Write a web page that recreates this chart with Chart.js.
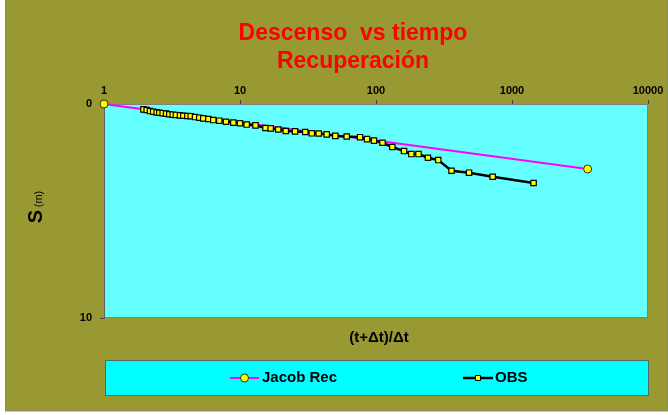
<!DOCTYPE html>
<html>
<head>
<meta charset="utf-8">
<script src="https://cdn.jsdelivr.net/npm/chart.js@4.4.1/dist/chart.umd.min.js"></script>
<style>
  html, body { margin: 0; padding: 0; background: #ffffff; }
  #wrap { width: 668px; height: 415px; }
</style>
</head>
<body>
<div id="wrap"><canvas id="c" width="668" height="415"></canvas></div>
<script>
// ---- data ----
const titleLines = ['Descenso  vs tiempo', 'Recuperación'];
const xAxisTitle = '(t+Δt)/Δt';
const yAxisTitle = 'S';
const yAxisUnit = '(m)';
const xTickValues = [1, 10, 100, 1000, 10000];
const yTickValues = [0, 10];

const jacobLabel = 'Jacob Rec';
const jacobRatio = [1, 3600];
const jacobS = [0, 3.04];

const obsLabel = 'OBS';
const obsRatio = [1.95, 2.06, 2.18, 2.30, 2.44, 2.55, 2.70, 2.86, 3.02, 3.20,
  3.38, 3.62, 3.83, 4.10, 4.34, 4.67, 5.02, 5.37, 5.85, 6.36,
  7.04, 7.89, 8.93, 10.0, 11.2, 13.0, 15.4, 16.8, 19.1, 21.7,
  25.4, 30.2, 33.7, 37.9, 43.4, 50.2, 60.9, 76.3, 85.9, 96.7,
  111.6, 131.8, 160.7, 181.8, 205.3, 241, 287, 359, 483, 721, 1441];
const obsS = [0.25, 0.28, 0.33, 0.36, 0.39, 0.41, 0.43, 0.45, 0.48, 0.50,
  0.51, 0.53, 0.55, 0.56, 0.57, 0.61, 0.64, 0.67, 0.70, 0.75,
  0.78, 0.83, 0.87, 0.90, 0.96, 1.00, 1.12, 1.14, 1.19, 1.26,
  1.28, 1.31, 1.37, 1.38, 1.42, 1.49, 1.52, 1.55, 1.64, 1.71,
  1.81, 2.01, 2.20, 2.34, 2.34, 2.51, 2.62, 3.12, 3.21, 3.40, 3.69];

// ---- chart ----
const FONT = 'Arial, "Liberation Sans", Helvetica, sans-serif';
Chart.defaults.font.family = FONT;
Chart.defaults.color = '#000000';

const pairs = (xs, ys) => xs.map((x, i) => ({x: x, y: ys[i]}));

const TITLE_PAD_TOP = 20, TITLE_PAD_BOTTOM = 4, TITLE_SIZE = 23, TITLE_LH = 1.2;
const TITLE_H = TITLE_PAD_TOP + TITLE_PAD_BOTTOM + titleLines.length * TITLE_SIZE * TITLE_LH;
const PLOT_TOP = 104, PLOT_LEFT = 104;

const decor = {
  id: 'decor',
  afterLayout(chart) {
    const tb = chart.titleBlock;
    if (tb) { const c = 353; tb.left = c - 300; tb.right = c + 300; tb.width = 600; }
  },
  beforeDraw(chart) {
    const {ctx, chartArea: a} = chart;
    ctx.save();
    ctx.fillStyle = '#ffffff';
    ctx.fillRect(0, 0, chart.width, chart.height);
    ctx.fillStyle = '#999933';
    ctx.fillRect(6, 0, 661, 411);
    ctx.strokeStyle = '#8a8a7a';
    ctx.lineWidth = 1;
    ctx.strokeRect(5.5, -1, 662, 412);
    ctx.fillStyle = '#66ffff';
    ctx.fillRect(a.left, a.top, a.right - a.left, a.bottom - a.top);
    ctx.strokeStyle = '#808080';
    ctx.strokeRect(a.left + 0.5, a.top + 0.5, a.right - a.left - 1, a.bottom - a.top - 1);
    ctx.restore();
  },
  afterDraw(chart) {
    const {ctx} = chart;
    ctx.save();
    // x axis title under the plot
    ctx.fillStyle = '#000000';
    ctx.font = 'bold 15px ' + FONT;
    ctx.textAlign = 'center';
    ctx.textBaseline = 'middle';
    ctx.fillText(xAxisTitle, 379, 338);
    // unit beside the rotated S
    ctx.save();
    ctx.translate(42, 199);
    ctx.rotate(-Math.PI / 2);
    ctx.font = '11px ' + FONT;
    ctx.textAlign = 'center';
    ctx.textBaseline = 'alphabetic';
    ctx.fillText(yAxisUnit, 0, 0);
    ctx.restore();
    // legend box
    ctx.fillStyle = '#00ffff';
    ctx.fillRect(105, 360, 544, 36);
    ctx.strokeStyle = '#4d6b6b';
    ctx.lineWidth = 1;
    ctx.strokeRect(105.5, 360.5, 543, 35);
    const items = [{x0: 230, x1: 259, tx: 262}, {x0: 463, x1: 493, tx: 495}];
    const ly = 378;
    chart.data.datasets.forEach((ds, i) => {
      const it = items[i];
      const cx = (it.x0 + it.x1) / 2;
      ctx.strokeStyle = ds.borderColor;
      ctx.lineWidth = ds.borderWidth;
      ctx.beginPath();
      ctx.moveTo(it.x0, ly);
      ctx.lineTo(it.x1, ly);
      ctx.stroke();
      ctx.fillStyle = ds.pointBackgroundColor;
      ctx.strokeStyle = ds.pointBorderColor;
      ctx.lineWidth = 1;
      ctx.beginPath();
      if (ds.pointStyle === 'circle') {
        ctx.arc(cx, ly, 4, 0, Math.PI * 2);
      } else {
        ctx.rect(cx - 2.5, ly - 2.5, 5, 5);
      }
      ctx.fill();
      ctx.stroke();
      ctx.fillStyle = '#000000';
      ctx.font = 'bold 15px ' + FONT;
      ctx.textAlign = 'left';
      ctx.textBaseline = 'middle';
      ctx.fillText(ds.label, it.tx, ly);
    });
    ctx.restore();
  }
};

new Chart(document.getElementById('c'), {
  type: 'line',
  data: {
    datasets: [
      {
        label: jacobLabel,
        data: pairs(jacobRatio, jacobS),
        borderColor: '#ff00ff',
        borderWidth: 2,
        pointStyle: 'circle',
        pointRadius: 4,
        pointBackgroundColor: '#ffff00',
        pointBorderColor: '#333300',
        pointBorderWidth: 1,
        tension: 0,
        clip: false,
        order: 1
      },
      {
        label: obsLabel,
        data: pairs(obsRatio, obsS),
        borderColor: '#000000',
        borderWidth: 2.5,
        pointStyle: 'rect',
        pointRadius: 3.8,
        pointBackgroundColor: '#ffff00',
        pointBorderColor: '#000000',
        pointBorderWidth: 1.2,
        tension: 0,
        clip: false,
        order: 0
      }
    ]
  },
  options: {
    responsive: false,
    devicePixelRatio: 1,
    animation: false,
    events: [],
    layout: { padding: { left: 0, right: 20, top: 0, bottom: 415 - 318 } },
    plugins: {
      legend: { display: false },
      tooltip: { enabled: false },
      title: {
        display: true,
        text: titleLines,
        color: '#ff0000',
        font: { size: TITLE_SIZE, weight: 'bold', lineHeight: TITLE_LH },
        padding: { top: TITLE_PAD_TOP, bottom: TITLE_PAD_BOTTOM }
      }
    },
    scales: {
      x: {
        type: 'logarithmic',
        position: 'top',
        min: 1,
        max: 10000,
        afterBuildTicks: s => { s.ticks = xTickValues.map(v => ({value: v})); },
        afterFit: s => { s.height = PLOT_TOP - TITLE_H; s.paddingLeft = 0; s.paddingRight = 0; },
        ticks: {
          autoSkip: false,
          maxRotation: 0,
          padding: 2,
          font: { size: 11, weight: 'bold' },
          color: '#000000',
          callback: v => String(v)
        },
        grid: { display: true, drawOnChartArea: false, drawTicks: true, tickLength: 4, color: '#404040' },
        border: { display: true, color: '#808080' }
      },
      y: {
        type: 'linear',
        position: 'left',
        min: 0,
        max: 10,
        reverse: true,
        afterBuildTicks: s => { s.ticks = yTickValues.map(v => ({value: v})); },
        afterFit: s => { s.width = PLOT_LEFT; s.paddingTop = 0; s.paddingBottom = 0; },
        ticks: {
          padding: 8,
          font: { size: 11, weight: 'bold' },
          color: '#000000'
        },
        grid: { display: true, drawOnChartArea: false, drawTicks: true, tickLength: 4, color: '#404040' },
        border: { display: true, color: '#606060' },
        title: {
          display: true,
          text: yAxisTitle + '  ',
          color: '#000000',
          font: { size: 20, weight: 'bold' },
          padding: { top: 24, bottom: 0 }
        }
      }
    }
  },
  plugins: [decor]
});
</script>
</body>
</html>
